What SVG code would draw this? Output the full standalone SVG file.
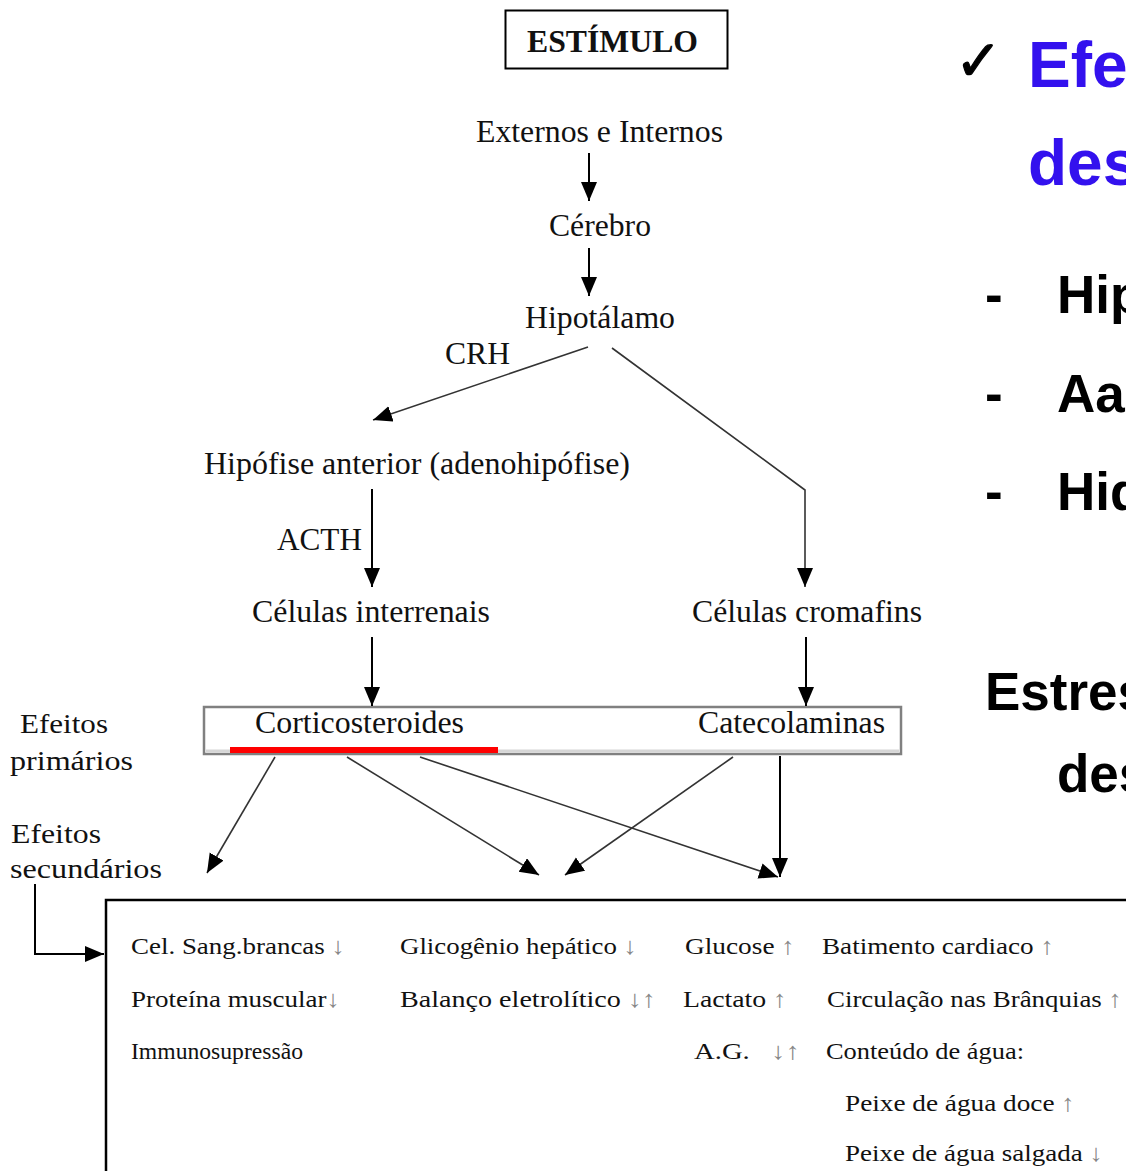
<svg xmlns="http://www.w3.org/2000/svg" width="1126" height="1171" viewBox="0 0 1126 1171">
<style>
.t{font-family:"Liberation Serif","Times New Roman",serif;fill:#111;}
.m{font-size:31px;}
.s{font-size:24px;}
.l{font-size:28px;}
.g{fill:#888;}
.b{font-family:"Liberation Sans",Arial,sans-serif;font-weight:bold;}
.ln{stroke:#000;stroke-width:2;fill:none;}
.dl{stroke:#333;stroke-width:1.6;fill:none;}
</style>
<defs>
<marker id="ah" markerUnits="userSpaceOnUse" markerWidth="22" markerHeight="18" refX="19" refY="8" orient="auto">
<path d="M0,0 L19,8 L0,16 Z" fill="#000"/>
</marker>
</defs>
<rect width="1126" height="1171" fill="#fff"/>

<g id="estimulo">
<rect x="505.5" y="10.5" width="222" height="58" fill="none" stroke="#000" stroke-width="2"/>
<text class="t" x="527" y="52" font-size="31" font-weight="bold" textLength="171" lengthAdjust="spacingAndGlyphs">ESTÍMULO</text>
</g>
<g id="externos"><text class="t m" x="476" y="142" textLength="247" lengthAdjust="spacingAndGlyphs">Externos e Internos</text></g>
<g id="cerebro"><text class="t m" x="549" y="236" textLength="102" lengthAdjust="spacingAndGlyphs">Cérebro</text></g>
<g id="hipotalamo"><text class="t m" x="525" y="328" textLength="150" lengthAdjust="spacingAndGlyphs">Hipotálamo</text></g>
<g id="hipofise"><text class="t m" x="204" y="474" textLength="426" lengthAdjust="spacingAndGlyphs">Hipófise anterior (adenohipófise)</text></g>
<g id="interrenais"><text class="t m" x="252" y="622" textLength="238" lengthAdjust="spacingAndGlyphs">Células interrenais</text></g>
<g id="cromafins"><text class="t m" x="692" y="622" textLength="230" lengthAdjust="spacingAndGlyphs">Células cromafins</text></g>
<g id="hormonios">
<rect x="204" y="707" width="697" height="47" fill="#fff" stroke="#808080" stroke-width="2.5"/>
<line x1="206" y1="751" x2="899" y2="751" stroke="#d6d6d6" stroke-width="3"/>
<rect x="230" y="747" width="268" height="6" fill="#ff0000"/>
<text class="t m" x="255" y="733" textLength="209" lengthAdjust="spacingAndGlyphs">Corticosteroides</text>
<text class="t m" x="698" y="733" textLength="187" lengthAdjust="spacingAndGlyphs">Catecolaminas</text>
</g>
<g id="rotulos">
<text class="t l" x="20" y="733" textLength="88" lengthAdjust="spacingAndGlyphs">Efeitos</text>
<text class="t l" x="10" y="770" textLength="123" lengthAdjust="spacingAndGlyphs">primários</text>
<text class="t l" x="11" y="843" textLength="90" lengthAdjust="spacingAndGlyphs">Efeitos</text>
<text class="t l" x="10" y="878" textLength="152" lengthAdjust="spacingAndGlyphs">secundários</text>
</g>
<g id="labels">
<text class="t m" x="445" y="364" textLength="65" lengthAdjust="spacingAndGlyphs">CRH</text>
<text class="t m" x="277" y="550" textLength="85" lengthAdjust="spacingAndGlyphs">ACTH</text>
</g>

<g id="connectors">
<line class="ln" x1="589" y1="153" x2="589" y2="201" marker-end="url(#ah)"/>
<line class="ln" x1="589" y1="248" x2="589" y2="296" marker-end="url(#ah)"/>
<line class="dl" x1="588" y1="347" x2="373" y2="420" marker-end="url(#ah)"/>
<polyline class="dl" points="612,348 805,490 805,587" marker-end="url(#ah)"/>
<line class="ln" x1="372" y1="489" x2="372" y2="587" marker-end="url(#ah)"/>
<line class="ln" x1="372" y1="637" x2="372" y2="706" marker-end="url(#ah)"/>
<line class="ln" x1="806" y1="637" x2="806" y2="706" marker-end="url(#ah)"/>
<line class="dl" x1="275" y1="757" x2="207" y2="873" marker-end="url(#ah)"/>
<line class="dl" x1="347" y1="757" x2="539" y2="875" marker-end="url(#ah)"/>
<line class="dl" x1="420" y1="757" x2="778" y2="877" marker-end="url(#ah)"/>
<line class="dl" x1="733" y1="757" x2="565" y2="875" marker-end="url(#ah)"/>
<line class="ln" x1="780" y1="756" x2="780" y2="877" marker-end="url(#ah)"/>
<polyline class="ln" points="35,884 35,954 104,954" marker-end="url(#ah)"/>
</g>

<g id="efeitos-secundarios">
<rect x="106" y="900" width="1100" height="400" fill="none" stroke="#000" stroke-width="2.5"/>
<text class="t s" x="131" y="954" textLength="214" lengthAdjust="spacingAndGlyphs">Cel. Sang.brancas <tspan class="g">↓</tspan></text>
<text class="t s" x="400" y="954" textLength="237" lengthAdjust="spacingAndGlyphs">Glicogênio hepático <tspan class="g">↓</tspan></text>
<text class="t s" x="685" y="954" textLength="110" lengthAdjust="spacingAndGlyphs">Glucose <tspan class="g">↑</tspan></text>
<text class="t s" x="822" y="954" textLength="232" lengthAdjust="spacingAndGlyphs">Batimento cardiaco <tspan class="g">↑</tspan></text>
<text class="t s" x="131" y="1007" textLength="209" lengthAdjust="spacingAndGlyphs">Proteína muscular<tspan class="g">↓</tspan></text>
<text class="t s" x="400" y="1007" textLength="256" lengthAdjust="spacingAndGlyphs">Balanço eletrolítico  <tspan class="g">↓↑</tspan></text>
<text class="t s" x="683" y="1007" textLength="104" lengthAdjust="spacingAndGlyphs">Lactato <tspan class="g">↑</tspan></text>
<text class="t s" x="827" y="1007" textLength="295" lengthAdjust="spacingAndGlyphs">Circulação nas Brânquias <tspan class="g">↑</tspan></text>
<text class="t s" x="131" y="1059" textLength="172" lengthAdjust="spacingAndGlyphs">Immunosupressão</text>
<text class="t s" x="694" y="1059" textLength="106" lengthAdjust="spacingAndGlyphs" xml:space="preserve">A.G.   <tspan class="g">↓↑</tspan></text>
<text class="t s" x="826" y="1059" textLength="198" lengthAdjust="spacingAndGlyphs">Conteúdo de água:</text>
<text class="t s" x="845" y="1111" textLength="230" lengthAdjust="spacingAndGlyphs">Peixe de água doce <tspan class="g">↑</tspan></text>
<text class="t s" x="845" y="1161" textLength="258" lengthAdjust="spacingAndGlyphs">Peixe de água salgada <tspan class="g">↓</tspan></text>
</g>

<g id="painel-direito">
<text x="955" y="80" font-family="DejaVu Sans,sans-serif" font-size="56" fill="#000" stroke="#000" stroke-width="1.2">✓</text>
<text class="b" x="1028" y="87" font-size="64" fill="#3311ee">Efe</text>
<text class="b" x="1028" y="185" font-size="64" fill="#3311ee">des</text>
<text class="b" x="985" y="313" font-size="53" fill="#000">-</text>
<text class="b" x="1057" y="313" font-size="53" fill="#000">Hip</text>
<text class="b" x="985" y="412" font-size="53" fill="#000">-</text>
<text class="b" x="1057" y="412" font-size="53" fill="#000">Aa</text>
<text class="b" x="985" y="510" font-size="53" fill="#000">-</text>
<text class="b" x="1057" y="510" font-size="53" fill="#000">Hid</text>
<text class="b" x="985" y="710" font-size="53" fill="#000">Estres</text>
<text class="b" x="1057" y="792" font-size="53" fill="#000">des</text>
</g>
</svg>
